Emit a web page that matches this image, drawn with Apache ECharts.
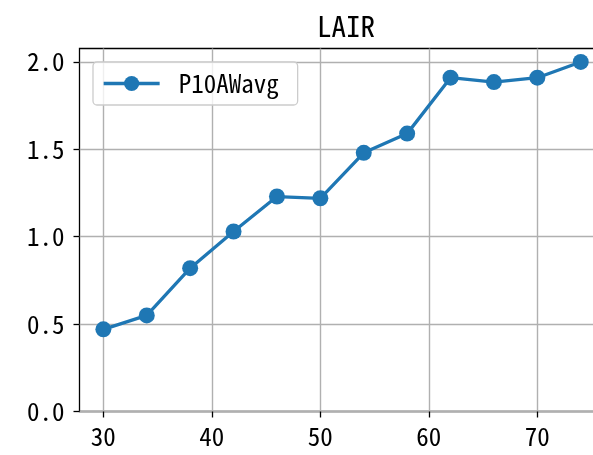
<!DOCTYPE html>
<html>
<head>
<meta charset="utf-8">
<script src="https://cdn.jsdelivr.net/npm/echarts@6.0.0/dist/echarts.min.js"></script>
<style>
  html, body { margin: 0; padding: 0; background: #fff; }
  #lair-chart { width: 593px; height: 455px; }
</style>
</head>
<body>
<div id="lair-chart"></div>
<script>
//----------------------Data----------------------
let lair_x = [30, 34, 38, 42, 46, 50, 54, 58, 62, 66, 70, 74];
let lair_p10awavg = [0.47, 0.55, 0.82, 1.03, 1.23, 1.22, 1.48, 1.59, 1.91, 1.885, 1.91, 2.0];
let lair_x_ticks = [30, 40, 50, 60, 70];
let lair_y_ticks = [0, 0.5, 1.0, 1.5, 2.0];
let lair_series_name = "P10AWavg";
let lair_title = "LAIR";

// Get dom in html
let lair_chart_dom = document.getElementById("lair-chart");
let lair_chart = echarts.init(lair_chart_dom);

let lair_font = '"Noto Sans Mono CJK JP", "DejaVu Sans Mono", monospace';
let lair_blue = "#1f77b4";
let lair_grid_color = "#b0b0b0";

//----------------------Grid----------------------
let lair_chart_grid = {
    left: 79.5,
    right: -11.6,
    top: 48.5,
    bottom: 43.5,
    show: true,
    borderColor: "#000",
    borderWidth: 1.3,
    outerBoundsMode: "none",
};
//----------------------Axis----------------------
let lair_chart_xAxis = {
    type: 'value',
    min: 27.8,
    max: 76.2,
    axisLine: {show: false},
    axisTick: {show: true, inside: false, length: 6, customValues: lair_x_ticks,
        lineStyle: {color: "#000", width: 1.3}},
    axisLabel: {customValues: lair_x_ticks, margin: 12, color: "#000",
        fontFamily: lair_font, fontSize: 25},
    splitLine: {show: true, lineStyle: {color: lair_grid_color, width: 1.4}},
};
let lair_chart_yAxis = {
    type: 'value',
    min: 0,
    max: 2.077,
    axisLine: {show: false},
    axisTick: {show: true, inside: false, length: 6, customValues: lair_y_ticks,
        lineStyle: {color: "#000", width: 1.3}},
    axisLabel: {customValues: lair_y_ticks, margin: 15, color: "#000",
        fontFamily: lair_font, fontSize: 25,
        formatter: function (v) { return v.toFixed(1); }},
    splitLine: {show: true, lineStyle: {color: lair_grid_color, width: 1.4}},
};
//---------------------Series---------------------
let lair_data = lair_x.map(function (x, i) { return [x, lair_p10awavg[i]]; });
let lair_chart_series = [{
    name: lair_series_name,
    type: 'line',
    data: lair_data,
    symbol: 'circle',
    symbolSize: 16,
    showSymbol: true,
    itemStyle: {color: lair_blue},
    lineStyle: {color: lair_blue, width: 3.3},
    animation: false,
}];
//------------------Generate Graph------------------
let lair_chart_option = {
    backgroundColor: "#fff",
    animation: false,
    title: {
        text: lair_title,
        left: 341,
        textAlign: 'center',
        top: 6,
        textStyle: {fontFamily: lair_font, fontSize: 29, fontWeight: 'normal', color: "#000"},
    },
    legend: {
        left: 93,
        top: 62,
        orient: 'vertical',
        itemWidth: 56,
        itemHeight: 19,
        padding: [9, 19, 9, 9],
        backgroundColor: "rgba(255,255,255,0.8)",
        borderColor: "#cccccc",
        borderWidth: 1.3,
        borderRadius: 4,
        lineStyle: {width: 3.3, color: lair_blue},
        textStyle: {fontFamily: lair_font, fontSize: 25, color: "#000", padding: [0, 0, 0, 14]},
        data: [lair_series_name],
    },
    grid: lair_chart_grid,
    xAxis: lair_chart_xAxis,
    yAxis: lair_chart_yAxis,
    series: lair_chart_series,
};
if (lair_chart_option && typeof lair_chart_option === "object") {
    lair_chart.setOption(lair_chart_option, true);
}
</script>
</body>
</html>
